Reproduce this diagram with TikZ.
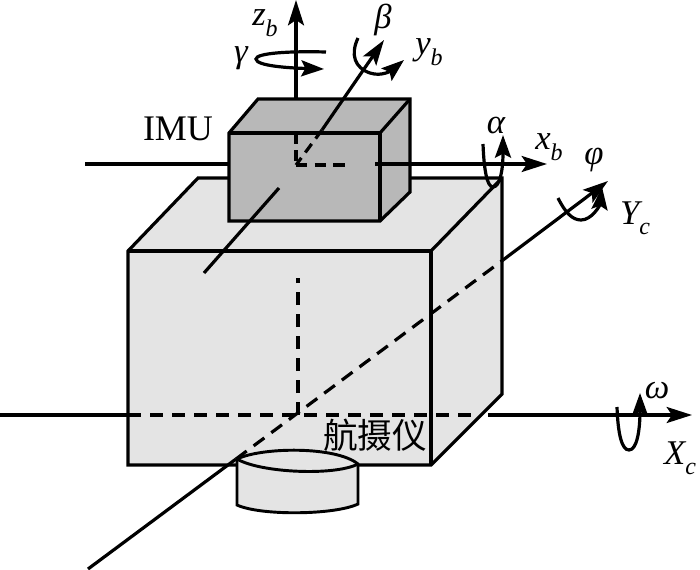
\documentclass[tikz,border=0pt]{standalone}
\usepackage{fontspec}
\setmainfont{Liberation Serif}
\newfontfamily\cjkfont{Noto Sans CJK SC}
\usetikzlibrary{arrows.meta}
\definecolor{camgray}{rgb}{0.895,0.895,0.895}
\definecolor{imugray}{rgb}{0.72,0.72,0.72}
\newcommand{\axlabel}[2]{{\itshape #1\raisebox{-.3em}{\fontsize{18}{18}\selectfont #2}}}
\tikzset{
  body/.style={
    draw=black,
    line width=2.4pt,
    line join=miter
  },
  axis/.style={
    line width=2.4pt
  },
  arrow/.style={
    axis,
    -{Stealth[length=19pt,width=12pt,inset=4pt]}
  },
  hidden/.style={
    axis,
    dash pattern=on 10pt off 6.5pt
  },
  spin/.style={
    axis,
    -{Stealth[length=17pt,width=12pt,inset=3pt]}
  },
  sym/.style={
    inner sep=0pt,
    font=\fontsize{26}{26}\selectfont\itshape
  }
}
\begin{document}
\begin{tikzpicture}[x=.75pt,y=-.75pt]
\useasboundingbox (0,0) rectangle (700,569);
% camera box
\coordinate (fa) at (128,251);
\coordinate (fb) at (431,251);
\coordinate (fc) at (431,465);
\coordinate (fd) at (128,465);
\coordinate (ba) at (198,178);
\coordinate (bb) at (502,178);
\coordinate (bc) at (502,394);
\draw[body,fill=camgray] (fa) -- (ba) -- (bb) -- (bc) -- (fc) -- (fd) -- cycle;
\draw[body] (fa) -- (fb) -- (fc);
\draw[body] (fb) -- (bb);
% lens
\coordinate (la) at (237,459);
\coordinate (lb) at (358,464);
\coordinate (lc) at (358,504);
\coordinate (ld) at (237,505);
% camera axes
\coordinate (xca) at (0,415);
\coordinate (xcb) at (128,415);
\coordinate (xcc) at (478,415);
\coordinate (xcd) at (488,415);
\coordinate (xce) at (692,415);
\coordinate (ca) at (298,415);
\coordinate (cb) at (298,278);
\coordinate (yca) at (88,569);
\coordinate (ycb) at (236,459);
\coordinate (ycc) at (503,260);
\coordinate (ycd) at (608,181);
\draw[axis] (xca) -- (xcb);
\draw[hidden] (xcb) -- (xcc);
\draw[arrow] (xcd) -- (xce);
\draw[hidden] (ca) -- (cb);
\draw[axis] (yca) -- (ycb);
\draw[hidden] (ycb) -- (ycc);
\draw[arrow] (ycc) -- (ycd);
\draw[body,fill=camgray,line width=2.2pt] (la) .. controls (262,447) and (336,446) .. (lb) -- (lc)
  .. controls (335,515) and (261,516) .. (ld) -- cycle;
\draw[body,line width=2.2pt] (la) .. controls (261,473) and (335,476) .. (lb);
% IMU box
\coordinate (ia) at (229,133);
\coordinate (ib) at (380,133);
\coordinate (ic) at (380,221);
\coordinate (id) at (229,221);
\coordinate (ie) at (258,99);
\coordinate (if) at (410,99);
\coordinate (ig) at (410,192);
\draw[body,fill=imugray] (ia) -- (ie) -- (if) -- (ig) -- (ic) -- (id) -- cycle;
\draw[body] (ia) -- (ib) -- (ic);
\draw[body] (ib) -- (if);
% IMU axes
\coordinate (o) at (296,165);
\coordinate (xba) at (85,164);
\coordinate (xbb) at (229,164);
\coordinate (xbc) at (350,165);
\coordinate (xbd) at (375,164);
\coordinate (xbe) at (547,164);
\coordinate (zba) at (296,99);
\coordinate (zbb) at (296,0);
\coordinate (zbc) at (296,133);
\coordinate (yba) at (204,273);
\coordinate (ybb) at (279,188);
\coordinate (ybc) at (322,130);
\coordinate (ybd) at (384,40);
\draw[axis] (xba) -- (xbb);
\draw[hidden,dash pattern=on 8.5pt off 5.5pt] (o) -- (xbc);
\draw[arrow] (xbd) -- (xbe);
\draw[arrow] (zba) -- (zbb);
\draw[hidden,dash pattern=on 8pt off 5pt] (zbc) -- (o);
\draw[hidden,dash pattern=on 8pt off 5pt] (ybc) -- (o);
\draw[axis] (yba) -- (ybb);
\draw[arrow] (ybc) -- (ybd);
% rotations
\coordinate (ga) at (326,52);
\coordinate (gb) at (324,69);
\coordinate (bea) at (358,38);
\coordinate (beb) at (404,60);
\coordinate (ala) at (483,144);
\coordinate (alb) at (503,135);
\coordinate (pa) at (558,198);
\coordinate (pb) at (602,187);
\coordinate (oa) at (617,407);
\coordinate (ob) at (640,393);
\draw[spin] (ga) .. controls (290,51) and (256,53) .. (256,59) .. controls (256,66) and (290,68) .. (gb);
\draw[spin] (bea) .. controls (350,55) and (355,68) .. (370,73) .. controls (382,77) and (392,70) .. (beb);
\draw[spin] (ala) .. controls (484,170) and (487,187) .. (493,187) .. controls (500,187) and (503,170) .. (alb);
\draw[spin] (pa) .. controls (565,212) and (572,220) .. (581,220) .. controls (592,220) and (600,205) .. (pb);
\draw[spin] (oa) .. controls (618,435) and (622,450) .. (629,450) .. controls (637,450) and (640,430) .. (ob);
% labels
\node[sym] (zb) at (265,23) {\axlabel{z}{b}};
\node[sym] (yb) at (429,52) {\axlabel{y}{b}};
\node[sym] (xb) at (549,147) {\axlabel{x}{b}};
\node[sym] (yc) at (635,218) {\axlabel{Y}{c}};
\node[sym] (xc) at (680,458) {\axlabel{X}{c}};
\node[sym] (gamma) at (241,58) {γ};
\node[sym] (beta) at (383,20) {β};
\node[sym] (alpha) at (496,125) {α};
\node[sym] (phi) at (594,160) {φ};
\node[sym] (omega) at (657,391) {ω};
\node[inner sep=0pt,font=\fontsize{27}{27}\selectfont] (imu) at (178,129) {IMU};
\node[inner sep=0pt,font=\cjkfont\fontsize{26}{26}\selectfont] (cam) at (375,435) {航摄仪};
\end{tikzpicture}
\end{document}
